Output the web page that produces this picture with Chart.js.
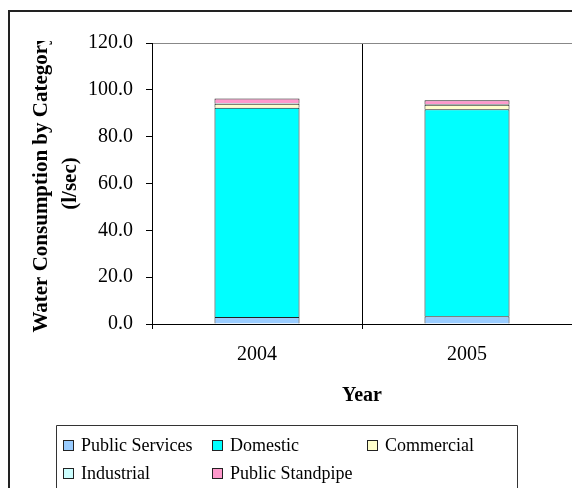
<!DOCTYPE html>
<html>
<head>
<meta charset="utf-8">
<script src="https://cdn.jsdelivr.net/npm/chart.js@4/dist/chart.umd.min.js"></script>
<style>
  html, body { margin: 0; padding: 0; background: #fff; }
  #wrap { position: relative; width: 572px; height: 488px; }
</style>
</head>
<body>
<div id="wrap"><canvas id="lienzo" width="572" height="488"></canvas></div>
<script>
"use strict";

// Datos del gráfico (l/sec)
const anios = ["2004", "2005"];
const serviciosPublicos = [3.0, 3.3];
const domestico = [89.3, 88.4];
const comercial = [1.8, 1.9];
const industrial = [0.3, 0.3];
const pilaPublica = [1.9, 1.6];
const etiquetasY = [0, 20, 40, 60, 80, 100, 120];

const fuente = "'Liberation Serif', 'Times New Roman', serif";

// Marco exterior, título del eje Y y leyenda en caja
const decorado = {
  id: "decorado",
  afterDraw(chart) {
    const ctx = chart.ctx;
    const area = chart.chartArea;
    ctx.save();

    // marco exterior (solo se ven los lados superior e izquierdo)
    ctx.strokeStyle = "#222";
    ctx.lineWidth = 2;
    ctx.beginPath();
    ctx.moveTo(9, 488);
    ctx.lineTo(9, 11);
    ctx.lineTo(572, 11);
    ctx.stroke();

    // título del eje Y, recortado por arriba
    ctx.save();
    ctx.beginPath();
    ctx.rect(0, 41, 150, 447);
    ctx.clip();
    const cy = (area.top + area.bottom) / 2;
    ctx.fillStyle = "#000";
    ctx.textAlign = "center";
    ctx.textBaseline = "middle";
    ctx.font = "bold 21px " + fuente;
    ctx.translate(42, cy);
    ctx.rotate(-Math.PI / 2);
    ctx.fillText("Water Consumption by Category", 0, 0);
    ctx.fillText("(l/sec)", 0, 29);
    ctx.restore();

    // leyenda
    ctx.strokeStyle = "#333";
    ctx.lineWidth = 1;
    ctx.beginPath();
    ctx.moveTo(56.5, 488);
    ctx.lineTo(56.5, 425.5);
    ctx.lineTo(517.5, 425.5);
    ctx.lineTo(517.5, 488);
    ctx.stroke();

    const columnas = [63, 212, 367];
    const filas = [445, 473];
    ctx.font = "18px " + fuente;
    ctx.textAlign = "left";
    ctx.textBaseline = "middle";
    chart.data.datasets.forEach((ds, i) => {
      const x = columnas[i % 3];
      const y = filas[Math.floor(i / 3)];
      ctx.fillStyle = ds.backgroundColor;
      ctx.fillRect(x, y - 5, 10, 10);
      ctx.strokeStyle = "#222";
      ctx.strokeRect(x + 0.5, y - 4.5, 10, 10);
      ctx.fillStyle = "#000";
      ctx.fillText(ds.label, x + 18, y + 1);
    });

    ctx.restore();
  },
};

const serie = (label, data, color) => ({
  label,
  data,
  backgroundColor: color,
  borderColor: "#222",
  borderWidth: 1,
  barPercentage: 0.405,
  categoryPercentage: 1,
});

new Chart(document.getElementById("lienzo"), {
  type: "bar",
  data: {
    labels: anios,
    datasets: [
      serie("Public Services", serviciosPublicos, "#99CCFF"),
      serie("Domestic", domestico, "#00FFFF"),
      serie("Commercial", comercial, "#FFFFCC"),
      serie("Industrial", industrial, "#CCFFFF"),
      serie("Public Standpipe", pilaPublica, "#FF99CC"),
    ],
  },
  options: {
    responsive: false,
    animation: false,
    layout: { padding: { left: 0, right: 0, top: 43, bottom: 80 } },
    plugins: {
      legend: { display: false },
      tooltip: { enabled: false },
    },
    scales: {
      x: {
        stacked: true,
        offset: true,
        grid: {
          offset: true,
          color: "#000",
          tickColor: "#000",
          tickLength: 5,
          lineWidth: 1,
        },
        border: { color: "#000", width: 1 },
        ticks: {
          color: "#000",
          padding: 14,
          font: { family: fuente, size: 20 },
        },
        title: {
          display: true,
          text: "Year",
          color: "#000",
          padding: 0,
          font: { family: fuente, size: 20, weight: "bold" },
        },
        afterFit(scale) {
          scale.height = 84;
        },
      },
      y: {
        stacked: true,
        min: 0,
        max: 120,
        afterBuildTicks(scale) {
          scale.ticks = etiquetasY.map((v) => ({ value: v }));
        },
        grid: {
          color: (c) => (c.tick && c.tick.value === 120 ? "#888" : "transparent"),
          tickColor: "#000",
          tickLength: 6,
        },
        border: { color: "#000", width: 1 },
        ticks: {
          color: "#000",
          padding: 13,
          font: { family: fuente, size: 20 },
          callback: (v) => Number(v).toFixed(1),
        },
        afterFit(scale) {
          scale.width = 152;
        },
      },
    },
  },
  plugins: [decorado],
});
</script>
</body>
</html>
